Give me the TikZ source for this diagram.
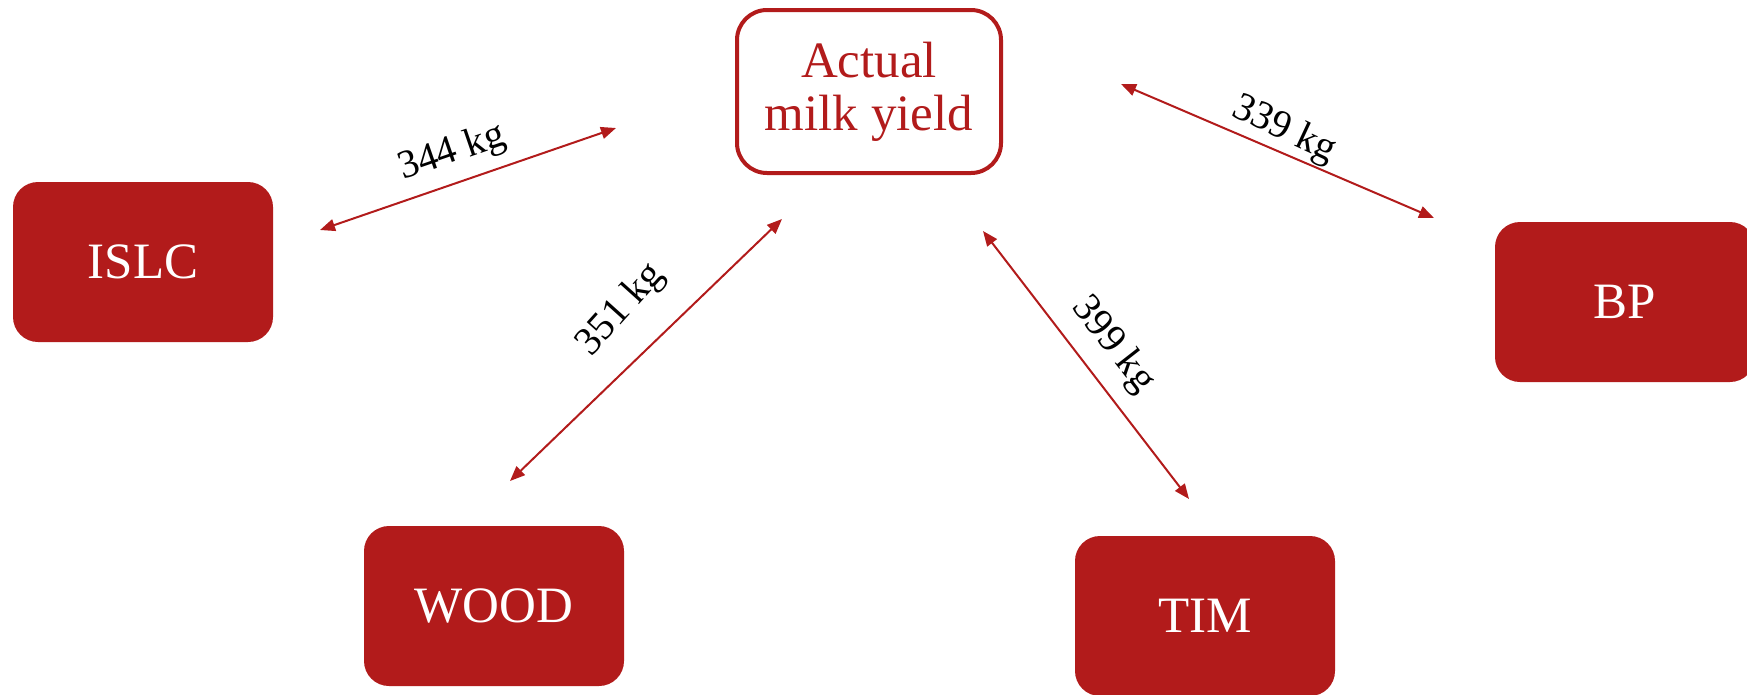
\documentclass[tikz,border=0pt]{standalone}
\usepackage{fontspec}
\setmainfont{Liberation Serif}
\usetikzlibrary{arrows.meta}
\definecolor{dred}{RGB}{178,27,27}
\tikzset{
  filledbox/.style={fill=dred, rounded corners=25pt, minimum width=260pt, minimum height=160pt, inner sep=0pt, text=white, font=\fontsize{51}{53}\selectfont},
  mainbox/.style={draw=dred, line width=4pt, fill=white, rounded corners=30pt, minimum width=264pt, minimum height=163pt, inner sep=0pt, text=dred, align=center, font=\fontsize{51}{53}\selectfont},
  conn/.style={draw=dred, line width=2pt, {Triangle[length=15pt,width=12pt]}-{Triangle[length=15pt,width=12pt]}},
  lbl/.style={font=\fontsize{40}{42}\selectfont, text=black, inner sep=0pt}
}
\begin{document}
\begin{tikzpicture}[x=1pt,y=-1pt]
\useasboundingbox (0,0) rectangle (1747,694);
\node[mainbox] (actual) at (869,91.5) {Actual\\milk yield};
\node[filledbox] (islc) at (143,262) {ISLC};
\node[filledbox] (bp) at (1625,302) {BP};
\node[filledbox] (wood) at (494,606) {WOOD};
\node[filledbox] (tim) at (1205,616) {TIM};
\coordinate (a1) at (320,230);
\coordinate (b1) at (616,128);
\coordinate (a2) at (510,481);
\coordinate (b2) at (782,219);
\coordinate (a3) at (1189,499);
\coordinate (b3) at (983,231);
\coordinate (a4) at (1434,218);
\coordinate (b4) at (1121,84);
\draw[conn] (a1) -- (b1);
\draw[conn] (a2) -- (b2);
\draw[conn] (a3) -- (b3);
\draw[conn] (a4) -- (b4);
\node[lbl, rotate=19] (l1) at (452,153) {344 kg};
\node[lbl, rotate=48] (l2) at (621,310) {351 kg};
\node[lbl, rotate=-52] (l3) at (1113,345) {399 kg};
\node[lbl, rotate=-25] (l4) at (1284,130) {339 kg};
\end{tikzpicture}
\end{document}
